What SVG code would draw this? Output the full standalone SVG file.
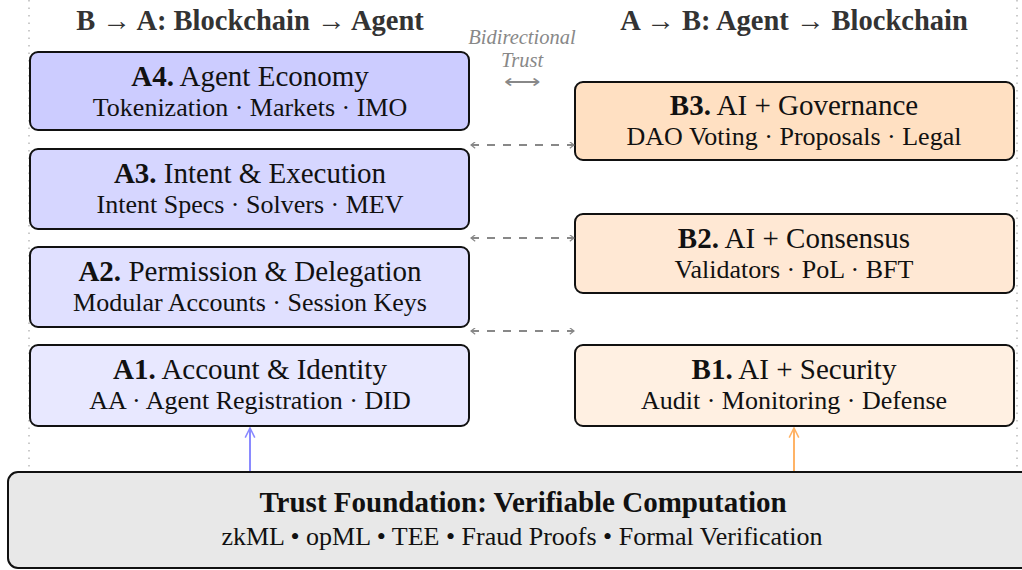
<svg xmlns="http://www.w3.org/2000/svg" width="1022" height="570" viewBox="0 0 1022 570">
<defs>
<style>
.box{stroke:#111;stroke-width:2}
.t{font-family:"Liberation Serif",serif;font-size:29px;fill:#111;text-anchor:middle}
.s{font-family:"Liberation Serif",serif;font-size:26px;fill:#111;text-anchor:middle}
.h{font-family:"Liberation Serif",serif;font-size:28.5px;font-weight:bold;fill:#333;text-anchor:middle}
.b{font-weight:bold}
.dash{stroke:#888;stroke-width:2;stroke-dasharray:8,8;fill:none;marker-start:url(#ag);marker-end:url(#ag)}
</style>
<marker id="ag" viewBox="0 0 10 10" refX="9" refY="5" markerWidth="7" markerHeight="7" orient="auto-start-reverse" markerUnits="userSpaceOnUse">
<path d="M3,0.5 L9,5 L3,9.5" fill="none" stroke="#888" stroke-width="1.8"/>
</marker>
<marker id="ab" viewBox="0 0 10 10" refX="9" refY="5" markerWidth="12" markerHeight="12" orient="auto" markerUnits="userSpaceOnUse">
<path d="M1,1 L9,5 L1,9" fill="none" stroke="#8a8aff" stroke-width="1.3"/>
</marker>
<marker id="ao" viewBox="0 0 10 10" refX="9" refY="5" markerWidth="12" markerHeight="12" orient="auto" markerUnits="userSpaceOnUse">
<path d="M1,1 L9,5 L1,9" fill="none" stroke="#ffb366" stroke-width="1.3"/>
</marker>
</defs>
<rect width="1022" height="570" fill="#fff"/>
<g id="frame">
<line x1="29" y1="0" x2="29" y2="472" stroke="#bbb" stroke-width="1.5" stroke-dasharray="1.5,6"/>
<line x1="1017" y1="0" x2="1017" y2="472" stroke="#bbb" stroke-width="1.5" stroke-dasharray="1.5,6"/>
</g>
<g id="headers">
<text class="h" x="250" y="30">B → A: Blockchain → Agent</text>
<text class="h" x="794" y="30">A → B: Agent → Blockchain</text>
</g>
<g id="trust-label" font-family="Liberation Serif,serif" font-style="italic" font-size="20.5" fill="#888" text-anchor="middle">
<text x="522" y="44">Bidirectional</text>
<text x="522" y="67">Trust</text>
<text x="522" y="88" font-style="normal" font-size="17" textLength="36" lengthAdjust="spacingAndGlyphs">⟷</text>
</g>
<g id="A4"><rect class="box" x="30" y="52" width="439" height="78" rx="8" fill="#ccccff"/>
<text class="t" x="250" y="86"><tspan class="b">A4.</tspan> Agent Economy</text>
<text class="s" x="250" y="116">Tokenization · Markets · IMO</text></g>
<g id="A3"><rect class="box" x="30" y="149" width="439" height="80" rx="8" fill="#d6d6ff"/>
<text class="t" x="250" y="183"><tspan class="b">A3.</tspan> Intent &amp; Execution</text>
<text class="s" x="250" y="213">Intent Specs · Solvers · MEV</text></g>
<g id="A2"><rect class="box" x="30" y="247" width="439" height="80" rx="8" fill="#e0e0ff"/>
<text class="t" x="250" y="281"><tspan class="b">A2.</tspan> Permission &amp; Delegation</text>
<text class="s" x="250" y="311">Modular Accounts · Session Keys</text></g>
<g id="A1"><rect class="box" x="30" y="345" width="439" height="81" rx="8" fill="#e8e8ff"/>
<text class="t" x="250" y="379"><tspan class="b">A1.</tspan> Account &amp; Identity</text>
<text class="s" x="250" y="409">AA · Agent Registration · DID</text></g>
<g id="B3"><rect class="box" x="575" y="82" width="439" height="78" rx="8" fill="#ffe0c2"/>
<text class="t" x="794" y="115"><tspan class="b">B3.</tspan> AI + Governance</text>
<text class="s" x="794" y="145">DAO Voting · Proposals · Legal</text></g>
<g id="B2"><rect class="box" x="575" y="214" width="439" height="79" rx="8" fill="#ffe8d4"/>
<text class="t" x="794" y="248"><tspan class="b">B2.</tspan> AI + Consensus</text>
<text class="s" x="794" y="278">Validators · PoL · BFT</text></g>
<g id="B1"><rect class="box" x="575" y="345" width="439" height="81" rx="8" fill="#fff0e2"/>
<text class="t" x="794" y="379"><tspan class="b">B1.</tspan> AI + Security</text>
<text class="s" x="794" y="409">Audit · Monitoring · Defense</text></g>
<g id="foundation"><rect class="box" x="8" y="472" width="1030" height="96" rx="10" fill="#e8e8e8"/>
<text class="t b" x="523" y="512" font-size="31">Trust Foundation: Verifiable Computation</text>
<text class="s" x="522" y="545" font-size="29.3">zkML • opML • TEE • Fraud Proofs • Formal Verification</text></g>
<g id="connectors">
<line class="dash" x1="471" y1="145" x2="574" y2="145"/>
<line class="dash" x1="471" y1="238" x2="574" y2="238"/>
<line class="dash" x1="471" y1="331" x2="574" y2="331"/>
<line x1="250" y1="471" x2="250" y2="428" stroke="#8a8aff" stroke-width="2" marker-end="url(#ab)"/>
<line x1="794" y1="471" x2="794" y2="428" stroke="#ffb366" stroke-width="2" marker-end="url(#ao)"/>
</g>
</svg>
